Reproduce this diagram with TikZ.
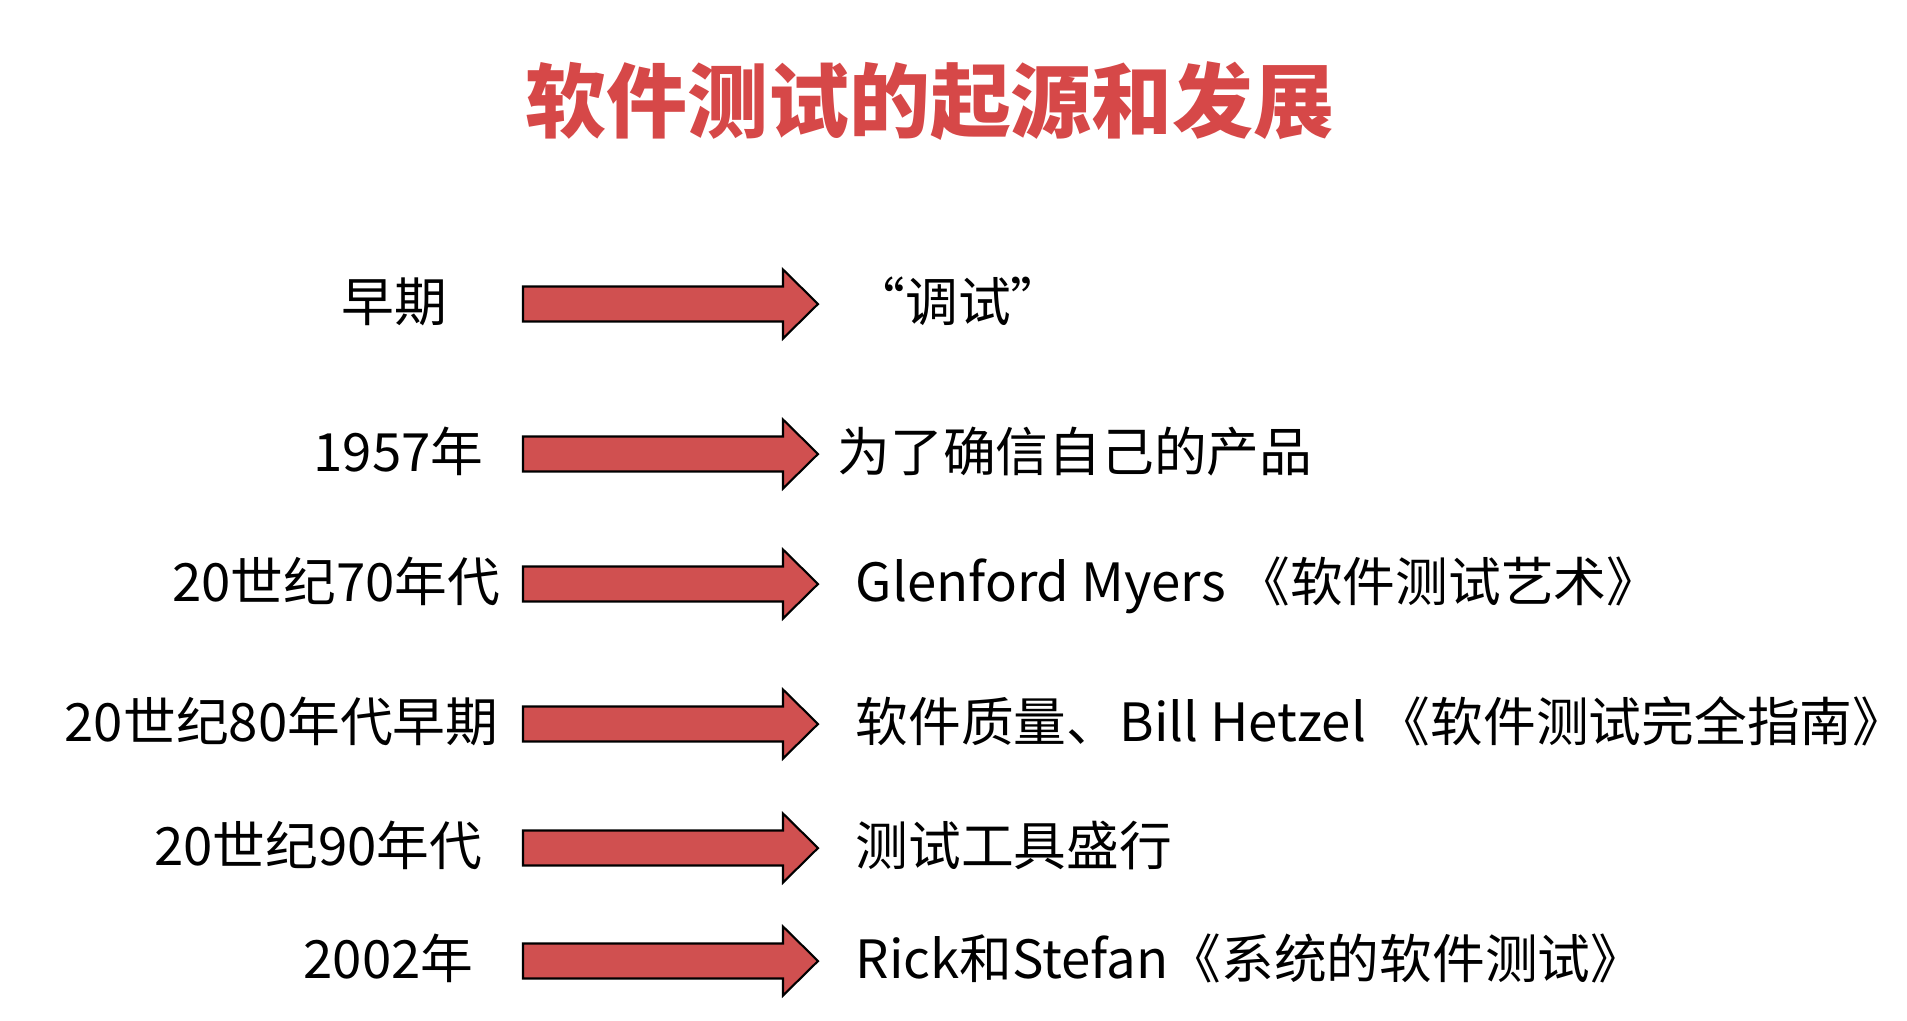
\documentclass[tikz,border=0pt]{standalone}
\usepackage{fontspec}
\setmainfont{Noto Sans CJK SC}
\usepackage{tikz}
\usetikzlibrary{positioning}

\definecolor{titlered}{RGB}{214,72,72}
\definecolor{arrowred}{RGB}{208,80,80}

\tikzset{
  era/.style={anchor=east, inner sep=0pt, text height=1.1em, text depth=0.12em,
    font=\fontsize{15pt}{18pt}\selectfont},
  event/.style={anchor=west, inner sep=0pt, text height=1.1em, text depth=0.12em,
    font=\fontsize{15pt}{18pt}\selectfont},
  arrowbox/.style={draw=black, line width=0.6pt, fill=arrowred, line join=miter}
}

\begin{document}
\begin{tikzpicture}[x=0.01cm, y=-0.01cm]

  \useasboundingbox (0,0) rectangle (1907,1020);

  %title
  \node[text=titlered, font=\fontsize{23pt}{28pt}\selectfont\bfseries] (title) at (930,101) {软件测试的起源和发展};

  %arrow size
  \def\ax{523};
  \def\hx{783};
  \def\tx{818};
  \def\sh{17.5};
  \def\hh{34.5};

  %rows: y / era right edge / era / event left edge / event / name
  \foreach \y/\lx/\era/\rx/\what/\name in {
      304/448/早期/852/“调试”/early,
      454/484/1957年/837/为了确信自己的产品/y57,
      584/501/20世纪70年代/855/Glenford Myers 《软件测试艺术》/y70,
      724/499/20世纪80年代早期/855/软件质量、Bill Hetzel 《软件测试完全指南》/y80,
      848/483/20世纪90年代/855/测试工具盛行/y90,
      961/474/2002年/855/Rick和Stefan《系统的软件测试》/y02}{
    \node[era] (\name-era) at (\lx,\y) {\era};
    \draw[arrowbox] (\ax,\y-\sh) -- (\hx,\y-\sh) -- (\hx,\y-\hh) -- (\tx,\y)
        -- (\hx,\y+\hh) -- (\hx,\y+\sh) -- (\ax,\y+\sh) -- cycle;
    \node[event] (\name-event) at (\rx,\y) {\what};
  }

\end{tikzpicture}
\end{document}
